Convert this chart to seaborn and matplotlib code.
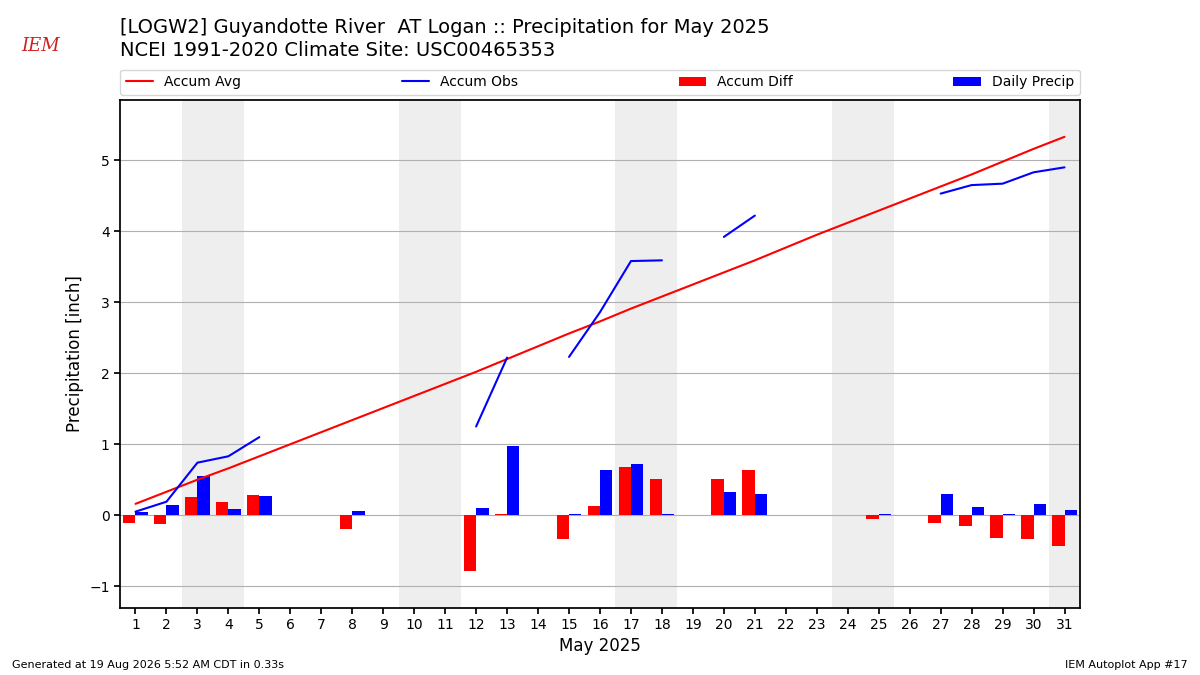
import numpy as np
import matplotlib
matplotlib.use("Agg")
import matplotlib.pyplot as plt
import seaborn as sns

nan = np.nan
days = np.arange(1, 32)
accum_avg = [0.16, 0.33, 0.50, 0.66, 0.83, 1.00, 1.17, 1.34, 1.51, 1.68, 1.85, 2.02,
             2.20, 2.38, 2.56, 2.73, 2.91, 3.08, 3.25, 3.42, 3.59, 3.77, 3.95, 4.12,
             4.29, 4.46, 4.63, 4.80, 4.98, 5.16, 5.33]
accum_obs = [0.05, 0.19, 0.74, 0.83, 1.10, nan, nan, nan, nan, nan, nan, 1.25,
             2.22, nan, 2.23, 2.86, 3.58, 3.59, nan, 3.92, 4.22, nan, nan, nan,
             nan, nan, 4.53, 4.65, 4.67, 4.83, 4.90]
accum_diff = [-0.11, -0.13, 0.25, 0.18, 0.28, nan, nan, -0.19, nan, nan, nan, -0.78,
              0.01, nan, -0.33, 0.13, 0.68, 0.51, nan, 0.51, 0.63, nan, nan, nan,
              -0.06, nan, -0.11, -0.15, -0.32, -0.33, -0.43]
daily = [0.05, 0.14, 0.55, 0.09, 0.27, 0, 0, 0.06, 0, 0, 0, 0.10,
         0.97, 0, 0.01, 0.63, 0.72, 0.01, 0, 0.33, 0.30, 0, 0, 0,
         0.01, 0, 0.30, 0.12, 0.02, 0.16, 0.07]
weekends = [3, 4, 10, 11, 17, 18, 24, 25, 31]

sns.set_theme(style="white", rc={"text.color": "black", "axes.labelcolor": "black",
                                 "xtick.color": "black", "ytick.color": "black"})
plt.rcParams["font.family"] = ["DejaVu Sans"]

fig = plt.figure(figsize=(12, 6.75), dpi=100)
ax = fig.add_axes([0.1, 0.1, 0.8, 0.752])
for d in weekends:
    ax.axvspan(d - 0.5, d + 0.5, color="#eeeeee", lw=0, zorder=0)
ax.grid(axis="y", color="#b0b0b0", lw=0.8, zorder=1)
ax.plot(days, accum_avg, color="red", lw=1.5, label="Accum Avg", zorder=4)
ax.plot(days, accum_obs, color="blue", lw=1.5, label="Accum Obs", zorder=4)
ax.bar(days, accum_diff, width=-0.4, align="edge", color="red", lw=0, label="Accum Diff", zorder=3)
ax.bar(days, daily, width=0.4, align="edge", color="blue", lw=0, label="Daily Precip", zorder=3)
ax.set_xlim(0.5, 31.5)
ax.set_ylim(-1.3, 5.85)
ax.set_xticks(days)
ax.set_xlabel("May 2025", fontsize=12)
ax.set_ylabel("Precipitation [inch]", fontsize=12)
for s in ax.spines.values():
    s.set_color("black")
ax.tick_params(axis="both", bottom=True, left=True, length=4, labelsize=10)
ax.legend(loc="lower left", bbox_to_anchor=(0, 1.01, 1, 0.05), ncol=4, mode="expand",
          fontsize=10, frameon=True, borderaxespad=0)

fig.text(0.1, 0.974, "[LOGW2] Guyandotte River  AT Logan :: Precipitation for May 2025",
         fontsize=14, va="top")
fig.text(0.1, 0.94, "NCEI 1991-2020 Climate Site: USC00465353", fontsize=14, va="top")
fig.text(0.018, 0.925, "IEM", color="#cc2222", fontsize=13, style="italic", family="serif")
fig.text(0.01, 0.01, "Generated at 19 Aug 2026 5:52 AM CDT in 0.33s", fontsize=8)
fig.text(0.99, 0.01, "IEM Autoplot App #17", fontsize=8, ha="right")
fig.savefig("out.png", dpi=100)
